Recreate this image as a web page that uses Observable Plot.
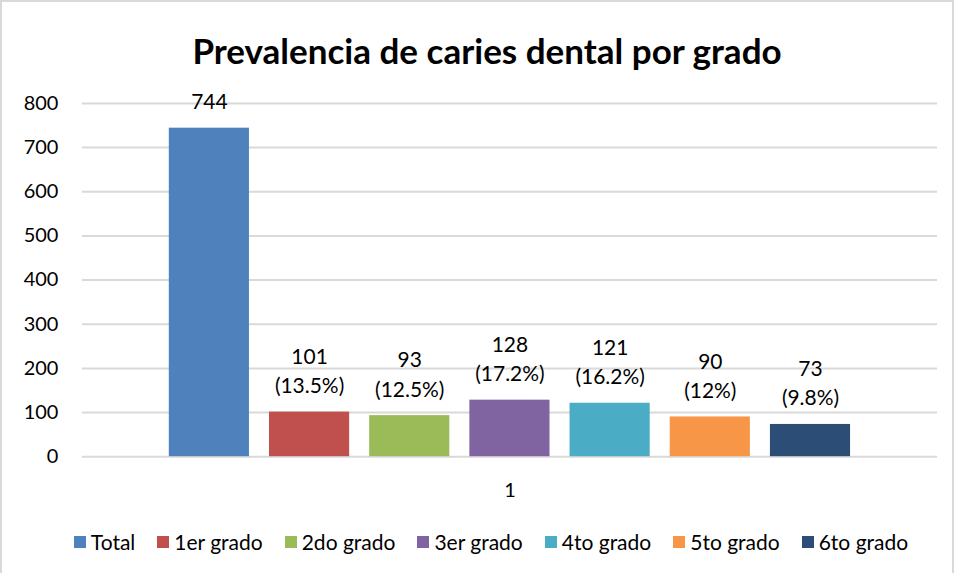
<!DOCTYPE html>
<html>
<head>
<meta charset="utf-8">
<script src="https://cdn.jsdelivr.net/npm/d3@7"></script>
<script src="https://cdn.jsdelivr.net/npm/@observablehq/plot@0.6"></script>
<style>
  html, body { margin: 0; padding: 0; background: #fff; }
  #chart { position: relative; width: 950px; height: 571px; border: 2px solid #d9d9d9; border-bottom: none; box-sizing: content-box; overflow: hidden; font-family: Lato, "Open Sans", sans-serif; color: #000; }
  #title { position: absolute; left: 0; top: 27px; width: 970px; text-align: center; font-weight: 700; font-size: 35px; line-height: 42px; }
  #plot { position: absolute; left: -2px; top: 76px; }
  #legend { position: absolute; left: 0; top: 526px; width: 978px; display: flex; justify-content: center; gap: 22px; font-size: 21px; line-height: 28px; }
  #legend span.item { display: inline-flex; align-items: center; }
  #legend span.sw { display: inline-block; width: 12px; height: 12px; margin-right: 5px; }
</style>
</head>
<body>
<div id="chart">
  <div id="title">Prevalencia de caries dental por grado</div>
  <div id="plot"></div>
  <div id="legend"></div>
</div>
<script>
const series = ["Total", "1er grado", "2do grado", "3er grado", "4to grado", "5to grado", "6to grado"];
const values = [744, 101, 93, 128, 121, 90, 73];
const percents = [null, "13.5%", "12.5%", "17.2%", "16.2%", "12%", "9.8%"];
const colors = ["#4F81BD", "#C0504D", "#9BBB59", "#8064A2", "#4BACC6", "#F79646", "#2C4D75"];
const category = "1";
const yTicks = [0, 100, 200, 300, 400, 500, 600, 700, 800];

const data = series.map((s, i) => ({
  series: s,
  value: values[i],
  group: category,
  label: percents[i] ? `${values[i]}\n(${percents[i]})` : `${values[i]}`
}));

const chart = Plot.plot({
  width: 954,
  height: 425,
  marginTop: 25,
  marginBottom: 46,
  marginLeft: 82,
  marginRight: 15,
  style: { fontFamily: "Lato, 'Open Sans', sans-serif", fontSize: "20px", color: "#000", background: "transparent" },
  fx: { padding: 0, round: false, label: null, axis: "bottom", tickSize: 0, tickPadding: 26 },
  x: { domain: series, paddingInner: 0.2, paddingOuter: 0.868, round: false, axis: null },
  y: { domain: [0, 800], ticks: yTicks, label: null, tickSize: 0, tickPadding: 24, grid: false },
  color: { domain: series, range: colors },
  marks: [
    Plot.ruleY(yTicks, { stroke: "#d9d9d9", strokeWidth: 2 }),
    Plot.barY(data, { fx: "group", x: "series", y: "value", fill: "series" }),
    Plot.text(data, { fx: "group", x: "series", y: "value", text: "label", lineAnchor: "bottom", dy: -19, lineHeight: 1.4, fontSize: 21, fill: "#000" })
  ]
});
document.getElementById("plot").appendChild(chart);

const legend = document.getElementById("legend");
series.forEach((s, i) => {
  const item = document.createElement("span");
  item.className = "item";
  const sw = document.createElement("span");
  sw.className = "sw";
  sw.style.background = colors[i];
  item.appendChild(sw);
  item.appendChild(document.createTextNode(s));
  legend.appendChild(item);
});
</script>
</body>
</html>
